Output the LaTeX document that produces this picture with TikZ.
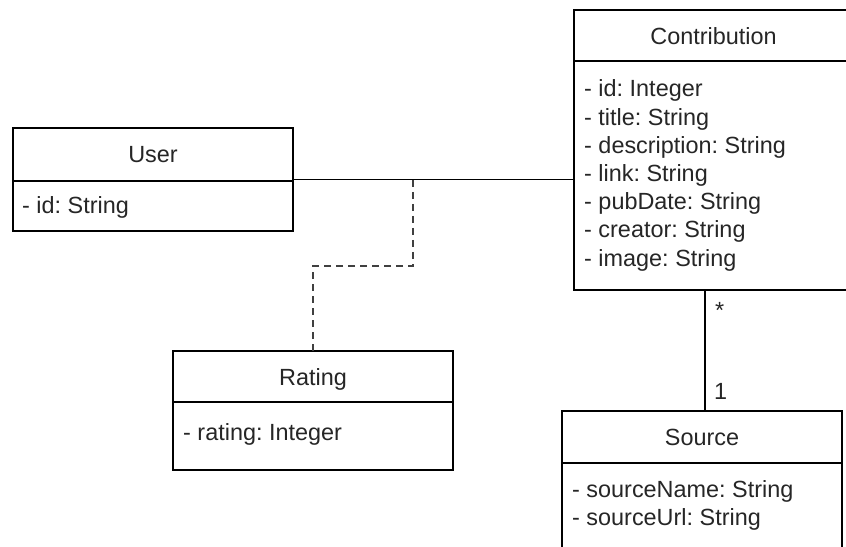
\documentclass[tikz,border=0pt]{standalone}
\usepackage{fontspec}
\setmainfont{Liberation Sans}
\frenchspacing
\begin{document}
\begin{tikzpicture}[x=1bp,y=-1bp,
  classbox/.style={draw=black, line width=1.6bp, rectangle, anchor=north west,
    inner sep=0pt, outer sep=0pt},
  classline/.style={draw=black, line width=1.6bp},
  assocline/.style={draw=black, line width=1.6bp},
  depline/.style={draw=black!75, line width=1.6bp, dash pattern=on 7bp off 5bp},
  titletext/.style={anchor=base, inner sep=0pt, text=black!85, font=\fontsize{23.5}{28.2}\selectfont},
  attrtext/.style={anchor=base west, inner sep=0pt, text=black!85, font=\fontsize{23.5}{28.2}\selectfont},
  multtext/.style={anchor=base west, inner sep=0pt, text=black!85, font=\fontsize{23.5}{28.2}\selectfont}]
\useasboundingbox (0,0) rectangle (846,547);
\clip (0,0) rectangle (846,547);
\fill[white] (0,0) rectangle (846,547);

% User
\node[classbox, minimum width=280bp, minimum height=103bp] (user) at (13,128) {};
\draw[classline] (user.west |- 0,181) -- (user.east |- 0,181);
\node[titletext] (usertitle) at (153,163) {User};
\node[attrtext] (userA1) at (22,214) {- id: String};

% Contribution (runs past the right edge)
\node[classbox, minimum width=279bp, minimum height=280bp] (contrib) at (574,10) {};
\draw[classline] (contrib.west |- 0,61) -- (contrib.east |- 0,61);
\node[titletext] (contribtitle) at (713.5,45) {Contribution};
\foreach \t [count=\i from 0] in {- id: Integer, - title: String, - description: String,
    - link: String, - pubDate: String, - creator: String, - image: String}
  \node[attrtext] (contribA\i) at (584,97+28.2*\i) {\t};

% Rating
\node[classbox, minimum width=280bp, minimum height=119bp] (rating) at (173,351) {};
\draw[classline] (rating.west |- 0,402) -- (rating.east |- 0,402);
\node[titletext] (ratingtitle) at (313,385) {Rating};
\node[attrtext] (ratingA1) at (183,440) {- rating: Integer};

% Source (runs past the bottom edge)
\node[classbox, minimum width=280bp, minimum height=160bp] (source) at (562,411) {};
\draw[classline] (source.west |- 0,463) -- (source.east |- 0,463);
\node[titletext] (sourcetitle) at (702,445) {Source};
\node[attrtext] (sourceA1) at (572,497) {- sourceName: String};
\node[attrtext] (sourceA2) at (572,525) {- sourceUrl: String};

% User -- Contribution association, with the Rating association class
\draw[assocline] (user.east) -- (user.east -| contrib.west);
\coordinate (mid) at (413,180);
\draw[depline] (mid) -- (413,266) -| (rating.north);

% Contribution -- Source
\coordinate (link) at (705,0);
\draw[assocline] (contrib.south -| link) -- (source.north -| link);
\node[multtext] (multmany) at (715,319) {*};
\node[multtext] (multone) at (714,399) {1};
\end{tikzpicture}
\end{document}
